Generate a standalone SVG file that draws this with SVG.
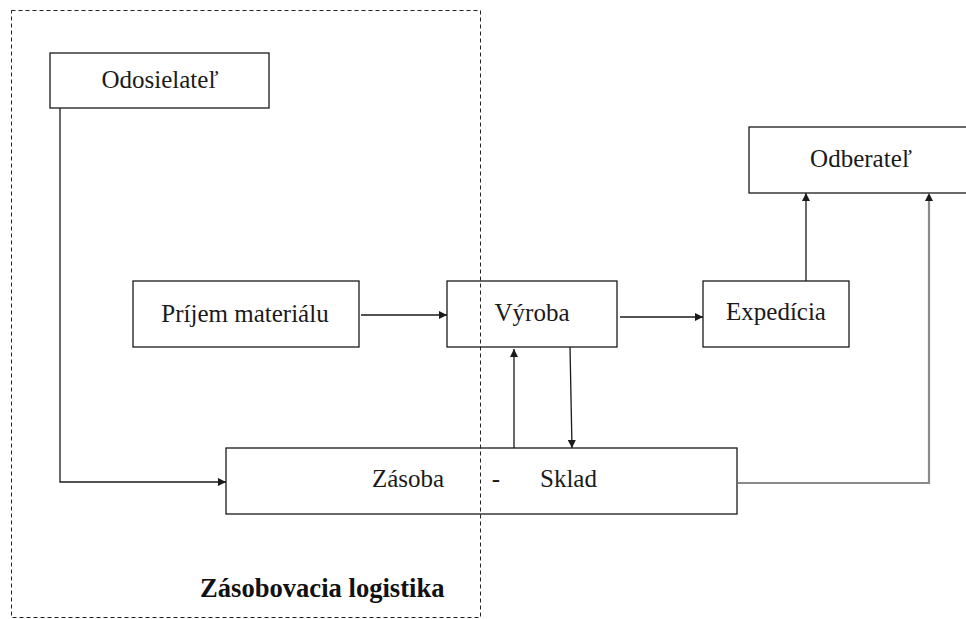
<svg xmlns="http://www.w3.org/2000/svg" width="966" height="619" viewBox="0 0 966 619">
<style>
.box{fill:#fff;stroke:#1a1a1a;stroke-width:1.3}
.t{font-family:"Liberation Serif","Times New Roman",serif;font-size:25px;fill:#1a1a1a}
.c{stroke:#1a1a1a;stroke-width:1.3;fill:none}
.g{stroke:#8a8a8a;stroke-width:2.2;fill:none}
</style>
<defs>
<marker id="a" viewBox="0 0 10 10" refX="10" refY="5" markerWidth="8" markerHeight="8" markerUnits="userSpaceOnUse" orient="auto">
<path d="M0,0 L10,5 L0,10 z" fill="#1a1a1a"/>
</marker>
</defs>
<rect width="966" height="619" fill="#fff"/>
<g id="odosielatel"><rect class="box" x="50" y="53" width="219" height="55"/><text class="t" x="160" y="88" text-anchor="middle">Odosielateľ</text></g>
<g id="prijem"><rect class="box" x="133" y="281" width="226" height="66"/><text class="t" x="245" y="322" text-anchor="middle">Príjem materiálu</text></g>
<g id="vyroba"><rect class="box" x="447" y="281" width="170" height="66"/><text class="t" x="532" y="321" text-anchor="middle">Výroba</text></g>
<g id="expedicia"><rect class="box" x="703" y="281" width="146" height="66"/><text class="t" x="776" y="320" text-anchor="middle">Expedícia</text></g>
<g id="odberatel"><rect class="box" x="749" y="127" width="222" height="66"/><text class="t" x="861" y="167" text-anchor="middle">Odberateľ</text></g>
<g id="zasoba"><rect class="box" x="226" y="448" width="511" height="66"/><text class="t" x="372" y="487">Zásoba</text><text class="t" x="496" y="487" text-anchor="middle">-</text><text class="t" x="540" y="487">Sklad</text></g>
<g id="connectors">
<path class="c" d="M60,108 V482 H226" marker-end="url(#a)"/>
<path class="c" d="M361,315 H447" marker-end="url(#a)"/>
<path class="c" d="M620,317 H703" marker-end="url(#a)"/>
<path class="c" d="M514,448 V349" marker-end="url(#a)"/>
<path class="c" d="M570,347 L572,448" marker-end="url(#a)"/>
<path class="c" d="M806,281 V193" marker-end="url(#a)"/>
<path class="g" d="M738,483 H929 V201"/>
<path d="M925,201 L929,193 L933,201 z" fill="#1a1a1a"/>
</g>
<g id="zasobovacia-logistika">
<rect x="11.5" y="10.5" width="469" height="607" fill="none" stroke="#222" stroke-width="1" stroke-dasharray="4,3"/>
<text x="200" y="597" font-family="Liberation Serif,'Times New Roman',serif" font-size="26.6" font-weight="bold" fill="#111">Zásobovacia logistika</text>
</g>
</svg>
